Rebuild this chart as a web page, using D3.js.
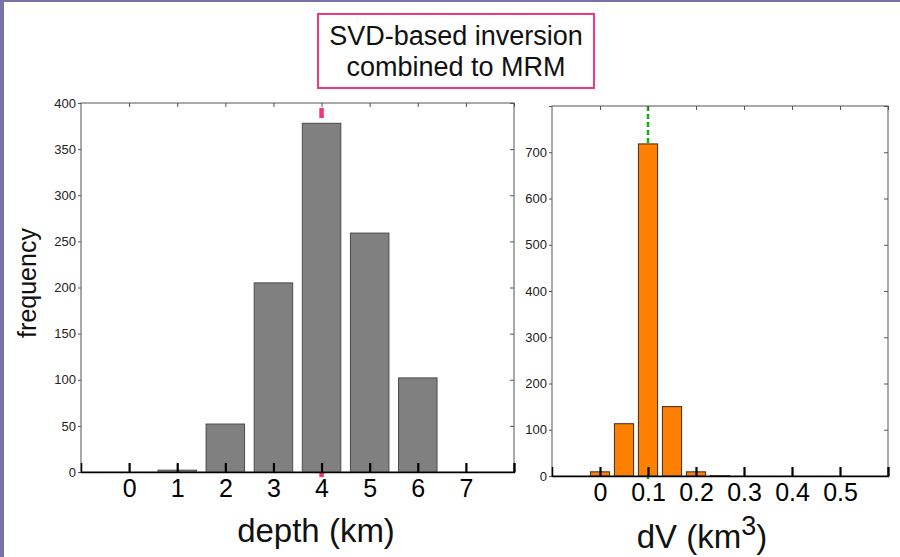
<!DOCTYPE html>
<html><head><meta charset="utf-8">
<script src="https://cdn.jsdelivr.net/npm/d3@7"></script>
<style>
body{margin:0;background:#fff}
svg{display:block}
text{font-family:"Liberation Sans",Arial,Helvetica,sans-serif}
</style>
</head><body>
<svg id="c" width="900" height="557"></svg>
<script>
// ---- data ----
const depthBins = [0, 1, 2, 3, 4, 5, 6, 7];
const depthCounts = [0, 2, 52, 205, 378, 259, 102, 0];
const depthXTicks = [0, 1, 2, 3, 4, 5, 6, 7, 8];
const depthXTickLabels = ["0", "1", "2", "3", "4", "5", "6", "7", ""];
const depthYTicks = [0, 50, 100, 150, 200, 250, 300, 350, 400];
const depthYTickLabels = ["0", "50", "100", "150", "200", "250", "300", "350", "400"];
const depthMarker = 4;

const dvBins = [0, 0.05, 0.1, 0.15, 0.2, 0.25];
const dvCounts = [9, 113, 718, 150, 9, 1];
const dvXTicks = [0, 0.1, 0.2, 0.3, 0.4, 0.5, 0.6];
const dvXTickLabels = ["0", "0.1", "0.2", "0.3", "0.4", "0.5", ""];
const dvYTicks = [0, 100, 200, 300, 400, 500, 600, 700, 800];
const dvYTickLabels = ["0", "100", "200", "300", "400", "500", "600", "700", ""];
const dvMarker = 0.1;

const titleLines = ["SVD-based inversion", "combined to MRM"];
const yLabel = "frequency";

// ---- drawing ----
const svg = d3.select("#c");
svg.append("rect").attr("x", 0).attr("y", 0).attr("width", 900).attr("height", 557).attr("fill", "#fff");
svg.append("rect").attr("x", 0).attr("y", 0).attr("width", 900).attr("height", 2).attr("fill", "#7772a8");
svg.append("rect").attr("x", 0).attr("y", 0).attr("width", 4).attr("height", 557).attr("fill", "#7772a8");

// title box
svg.append("rect").attr("x", 318).attr("y", 14).attr("width", 276).attr("height", 74)
  .attr("fill", "#fff").attr("stroke", "#f0387c").attr("stroke-width", 2);
svg.selectAll("text.title").data(titleLines).join("text").attr("class", "title")
  .attr("x", 456).attr("y", (d, i) => 45 + i * 31)
  .attr("text-anchor", "middle").attr("font-size", 27).attr("fill", "#111").text(d => d);

function panel(o) {
  const g = svg.append("g");
  const x = d3.scaleLinear().domain(o.xDomain).range([o.left, o.right]);
  const y = d3.scaleLinear().domain(o.yDomain).range([o.bottom, o.top]);

  // marker line (behind bars)
  g.append("line")
    .attr("x1", x(o.marker)).attr("x2", x(o.marker))
    .attr("y1", o.markerY1 != null ? o.markerY1 : y.range()[1]).attr("y2", y(0) + o.markerBelow)
    .attr("stroke", o.markerColor).attr("stroke-width", o.markerWidth)
    .attr("stroke-dasharray", o.markerDash);

  // bars
  g.selectAll("rect.bar").data(o.bins.map((b, i) => ({b, v: o.counts[i]})))
    .join("rect").attr("class", "bar")
    .attr("x", d => x(d.b - o.barW / 2))
    .attr("width", d => x(d.b + o.barW / 2) - x(d.b - o.barW / 2))
    .attr("y", d => y(d.v))
    .attr("height", d => y(0) - y(d.v))
    .attr("fill", o.fill).attr("stroke", o.barStroke).attr("stroke-width", 1);

  // frame
  g.append("rect").attr("x", o.left).attr("y", o.top)
    .attr("width", o.right - o.left).attr("height", o.bottom - o.top)
    .attr("fill", "none").attr("stroke", "#555").attr("stroke-width", 1);

  // top ticks
  const top = g.append("g").attr("transform", `translate(0,${o.top})`)
    .call(d3.axisTop(x).tickValues(o.xTicks).tickSize(-4).tickFormat(""));
  top.select(".domain").remove();
  top.selectAll("line").attr("stroke", "#555");

  // right ticks
  const rt = g.append("g").attr("transform", `translate(${o.right},0)`)
    .call(d3.axisRight(y).tickValues(o.yTicks).tickSize(-4).tickFormat(""));
  rt.select(".domain").remove();
  rt.selectAll("line").attr("stroke", "#555");

  // left axis
  const la = g.append("g").attr("transform", `translate(${o.left},0)`)
    .call(d3.axisLeft(y).tickValues(o.yTicks).tickSize(3).tickPadding(2)
      .tickFormat((d, i) => o.yLabels[i]));
  la.select(".domain").remove();
  la.selectAll("line").attr("stroke", "#555");
  la.selectAll("text").attr("font-size", 13).attr("fill", "#222")
    .style("font-family", '"Liberation Sans",Arial,sans-serif');

  // bottom axis
  const ba = g.append("g").attr("transform", `translate(0,${o.bottom})`)
    .call(d3.axisBottom(x).tickValues(o.xTicks).tickSize(-9).tickPadding(7)
      .tickFormat((d, i) => o.xLabels[i]));
  ba.select(".domain").attr("stroke", "#000").attr("stroke-width", 1.5);
  ba.selectAll("line").attr("stroke", "#000").attr("stroke-width", 2.2);
  ba.selectAll("text").attr("font-size", 25).attr("fill", "#000")
    .style("font-family", '"Liberation Sans",Arial,sans-serif');
  return {x, y};
}

panel({
  left: 81, right: 514, top: 103, bottom: 472,
  xDomain: [-1, 8], yDomain: [0, 400],
  bins: depthBins, counts: depthCounts, barW: 0.8,
  fill: "#808080", barStroke: "#4a4a4a",
  xTicks: depthXTicks, xLabels: depthXTickLabels,
  yTicks: depthYTicks, yLabels: depthYTickLabels,
  marker: depthMarker, markerColor: "#f5337e", markerWidth: 4.5,
  markerY1: 108, markerBelow: 5, markerDash: "10,354"
});

panel({
  left: 552, right: 888, top: 106, bottom: 476,
  xDomain: [-0.1, 0.6], yDomain: [0, 800],
  bins: dvBins, counts: dvCounts, barW: 0.04,
  fill: "#ff8000", barStroke: "#3a2a1a",
  xTicks: dvXTicks, xLabels: dvXTickLabels,
  yTicks: dvYTicks, yLabels: dvYTickLabels,
  marker: dvMarker, markerColor: "#10b010", markerWidth: 2.5,
  markerY1: null, markerBelow: 5, markerDash: "5,3"
});

// axis titles
svg.append("text").attr("transform", "translate(36,283) rotate(-90)")
  .attr("text-anchor", "middle").attr("font-size", 25).attr("fill", "#111").text(yLabel);
svg.append("text").attr("x", 316).attr("y", 542).attr("text-anchor", "middle")
  .attr("font-size", 33).attr("fill", "#111").text("depth (km)");
const dv = svg.append("text").attr("x", 702).attr("y", 548).attr("text-anchor", "middle")
  .attr("font-size", 33).attr("fill", "#111");
dv.append("tspan").text("dV (km");
dv.append("tspan").attr("font-size", 27).attr("dy", -13).text("3");
dv.append("tspan").attr("dy", 13).text(")");
</script>
</body></html>
